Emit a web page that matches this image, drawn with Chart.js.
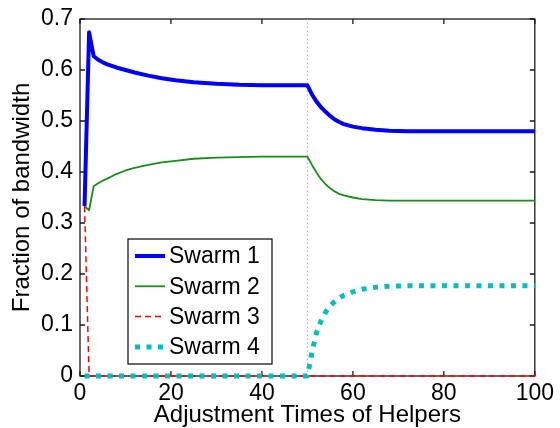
<!DOCTYPE html>
<html>
<head>
<meta charset="utf-8">
<script src="https://cdn.jsdelivr.net/npm/chart.js@4.4.0/dist/chart.umd.min.js"></script>
<style>
  html, body { margin: 0; padding: 0; background: #fff; }
</style>
</head>
<body>
<canvas id="bandwidth" width="560" height="428"></canvas>
<script>
// Fraction of bandwidth per swarm over helper adjustment times
const steps = [1, 2, 3, 4, 5, 6, 8, 10, 12, 15, 18, 21, 25, 30, 35, 40, 45, 50,
  51, 52, 53, 54, 55, 56, 57, 58, 60, 62, 65, 68, 72, 76, 80, 85, 90, 95, 100];

const swarm1 = [0.333, 0.674, 0.627, 0.620, 0.615, 0.611, 0.605, 0.600, 0.595, 0.589, 0.584, 0.580, 0.576, 0.573, 0.571, 0.570, 0.570, 0.570,
  0.552, 0.538, 0.527, 0.518, 0.510, 0.503, 0.498, 0.494, 0.489, 0.486, 0.483, 0.481, 0.480, 0.480, 0.480, 0.480, 0.480, 0.480, 0.480];
const swarm2 = [0.333, 0.325, 0.372, 0.378, 0.383, 0.387, 0.396, 0.403, 0.408, 0.414, 0.419, 0.422, 0.426, 0.428, 0.429, 0.430, 0.430, 0.430,
  0.414, 0.399, 0.386, 0.376, 0.368, 0.362, 0.357, 0.354, 0.350, 0.347, 0.345, 0.344, 0.344, 0.344, 0.344, 0.344, 0.344, 0.344, 0.344];
const swarm3 = [0.333, 0, 0, 0, 0, 0, 0, 0, 0, 0, 0, 0, 0, 0, 0, 0, 0, 0,
  0, 0, 0, 0, 0, 0, 0, 0, 0, 0, 0, 0, 0, 0, 0, 0, 0, 0, 0];
const swarm4 = [0, 0, 0, 0, 0, 0, 0, 0, 0, 0, 0, 0, 0, 0, 0, 0, 0, 0,
  0.046, 0.085, 0.108, 0.125, 0.137, 0.146, 0.153, 0.158, 0.165, 0.170, 0.174, 0.176, 0.177, 0.177, 0.177, 0.177, 0.177, 0.177, 0.177];

const seriesLabels = ['Swarm 1', 'Swarm 2', 'Swarm 3', 'Swarm 4'];
const switchStep = 50;

const xTicks = [0, 20, 40, 60, 80, 100];
const yTicks = [0, 0.1, 0.2, 0.3, 0.4, 0.5, 0.6, 0.7];
const yTickLabels = ['0', '0.1', '0.2', '0.3', '0.4', '0.5', '0.6', '0.7'];

const FONT = '"Liberation Sans", Arial, Helvetica, sans-serif';

function toPoints(values) {
  return steps.map((s, i) => ({ x: s, y: values[i] }));
}

// box around the axes with inward ticks on all four sides
const axisBox = {
  id: 'axisBox',
  beforeDatasetsDraw(chart) {
    const { ctx, chartArea: a, scales: { x, y } } = chart;
    ctx.save();
    ctx.strokeStyle = '#1a1a1a';
    ctx.lineWidth = 1.3;
    ctx.beginPath();
    xTicks.forEach(v => {
      const px = x.getPixelForValue(v);
      ctx.moveTo(px, a.bottom); ctx.lineTo(px, a.bottom - 5);
      ctx.moveTo(px, a.top); ctx.lineTo(px, a.top + 5);
    });
    yTicks.forEach(v => {
      const py = y.getPixelForValue(v);
      ctx.moveTo(a.left, py); ctx.lineTo(a.left + 5, py);
      ctx.moveTo(a.right, py); ctx.lineTo(a.right - 5, py);
    });
    ctx.stroke();
    ctx.strokeRect(a.left, a.top, a.right - a.left, a.bottom - a.top);
    ctx.restore();
  }
};

// legend box sitting inside the plot
const boxLegend = {
  id: 'boxLegend',
  afterDraw(chart) {
    const { ctx } = chart;
    const items = chart.data.datasets.filter(d => d.label);
    const left = 128, top = 239, width = 144, height = 125, rowH = 30.3;
    ctx.save();
    ctx.fillStyle = '#fff';
    ctx.fillRect(left, top, width, height);
    ctx.strokeStyle = '#1a1a1a';
    ctx.lineWidth = 1.3;
    ctx.strokeRect(left, top, width, height);
    ctx.font = '23px ' + FONT;
    ctx.textBaseline = 'middle';
    items.forEach((d, i) => {
      const cy = top + 17 + i * rowH;
      ctx.beginPath();
      ctx.setLineDash(d.borderDash || []);
      ctx.lineWidth = d.borderWidth;
      ctx.strokeStyle = d.borderColor;
      ctx.moveTo(left + 7, cy);
      ctx.lineTo(left + 37, cy);
      ctx.stroke();
      ctx.setLineDash([]);
      ctx.fillStyle = '#000';
      ctx.fillText(d.label, left + 41, cy + 1);
    });
    ctx.restore();
  }
};

new Chart(document.getElementById('bandwidth'), {
  type: 'line',
  data: {
    datasets: [
      {
        label: seriesLabels[0],
        data: toPoints(swarm1),
        borderColor: '#0000ff',
        borderWidth: 4,
        order: 4
      },
      {
        label: seriesLabels[1],
        data: toPoints(swarm2),
        borderColor: '#1a8c1a',
        borderWidth: 1.8,
        order: 3
      },
      {
        label: seriesLabels[2],
        data: toPoints(swarm3),
        borderColor: '#ff0000',
        borderWidth: 1.5,
        borderDash: [6, 4],
        order: 2
      },
      {
        label: seriesLabels[3],
        data: toPoints(swarm4),
        borderColor: '#00bfbf',
        borderWidth: 5,
        borderDash: [5, 6.5],
        order: 1
      },
      {
        // marker for the helper change
        data: [{ x: switchStep, y: yTicks[0] }, { x: switchStep, y: yTicks[yTicks.length - 1] }],
        borderColor: '#b0b0b0',
        borderWidth: 1,
        borderDash: [1.5, 2.5],
        order: 5
      }
    ]
  },
  options: {
    responsive: false,
    animation: false,
    clip: false,
    elements: {
      point: { radius: 0 },
      line: { tension: 0, borderCapStyle: 'butt', borderJoinStyle: 'round' }
    },
    layout: { padding: { top: 19, right: 23, bottom: 0, left: 0 } },
    plugins: {
      legend: { display: false },
      tooltip: { enabled: false }
    },
    scales: {
      x: {
        type: 'linear',
        min: 0,
        max: 100,
        afterBuildTicks: s => { s.ticks = xTicks.map(v => ({ value: v })); },
        afterFit: s => { s.height = 52; },
        grid: { display: false, drawTicks: false },
        border: { display: false },
        ticks: {
          color: '#000',
          font: { family: FONT, size: 23, lineHeight: 1 },
          padding: 6,
          maxRotation: 0,
          autoSkip: false,
          callback: v => String(v)
        },
        title: {
          display: true,
          text: 'Adjustment Times of Helpers',
          color: '#000',
          font: { family: FONT, size: 24, lineHeight: 1 },
          padding: { top: 0, bottom: 1 }
        }
      },
      y: {
        min: 0,
        max: 0.7,
        afterBuildTicks: s => { s.ticks = yTicks.map(v => ({ value: v })); },
        afterFit: s => { s.width = 80; },
        grid: { display: false, drawTicks: false },
        border: { display: false },
        ticks: {
          color: '#000',
          font: { family: FONT, size: 23, lineHeight: 1 },
          padding: 7,
          autoSkip: false,
          callback: (v, i) => yTickLabels[i]
        },
        title: {
          display: true,
          text: 'Fraction of bandwidth',
          color: '#000',
          font: { family: FONT, size: 24, lineHeight: 1 },
          padding: { top: 10.5, bottom: 0 }
        }
      }
    }
  },
  plugins: [axisBox, boxLegend]
});
</script>
</body>
</html>
